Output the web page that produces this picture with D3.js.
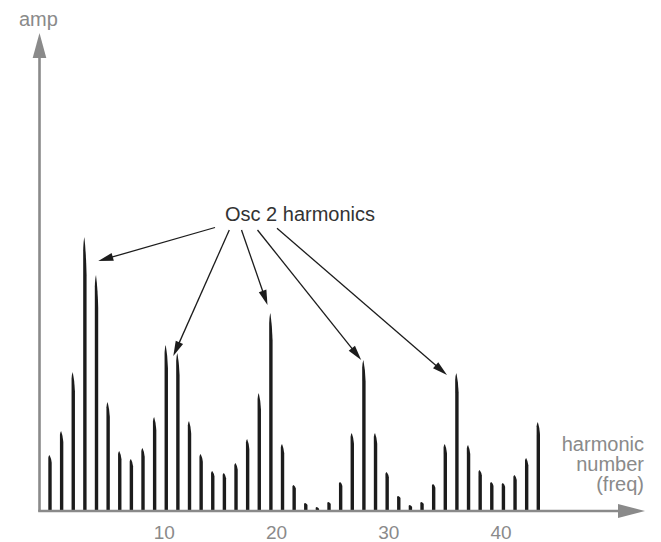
<!DOCTYPE html>
<html>
<head>
<meta charset="utf-8">
<script src="https://cdn.jsdelivr.net/npm/d3@7"></script>
<style>
  html, body { margin: 0; padding: 0; background: #fff; }
  svg { display: block; font-family: "Liberation Sans", Arial, Helvetica, sans-serif; }
</style>
</head>
<body>
<svg id="chart" width="661" height="542"></svg>
<script>
// ---- data ----
const harmonics = d3.range(1, 44);
const amplitudes = [55, 79, 138, 273, 235, 108, 59, 51, 62, 93,
                    165, 157, 89, 56, 39, 37, 47, 71, 117, 197,
                    66, 25, 7, 3, 8, 28, 77, 150, 77, 38,
                    14, 5, 8, 26, 66, 137, 65, 40, 28, 27,
                    35, 52, 88];
const tickValues = [10, 20, 30, 40];
const yLabel = "amp";
const xLabelLines = ["harmonic", "number", "(freq)"];
const annotation = "Osc 2 harmonics";
const peakHarmonics = [4.3, 11, 20, 28, 36];   // arrow targets
const peakOffsets = [25, 10, 8, 0, 0];

const svg = d3.select("#chart");
const baseY = 510;
const x = d3.scaleLinear().domain([1, 43]).range([50, 538.3]);
const xTick = d3.scaleLinear().domain([0, 40]).range([52, 501]);
const y = d3.scaleLinear().domain([0, 300]).range([baseY, baseY - 300]);

const axisColor = "#8a8a8a";

// bars (tapered spikes)
const bw = 3.4;
svg.append("g").selectAll("path")
  .data(harmonics.map((h, i) => ({h, v: amplitudes[i]})))
  .join("path")
  .attr("fill", "#1c1c1c")
  .attr("d", d => {
    const cx = x(d.h), top = y(d.v), h = baseY - top;
    const taper = Math.max(2, h * 0.14);
    const l = cx - bw / 2, r = cx + bw / 2;
    const tipX = cx - bw * 0.15;
    return `M${l},${baseY} L${l},${top + taper * 0.35} Q${l + 0.3},${top + taper * 0.1} ${tipX},${top} ` +
           `Q${r - 0.4},${top + taper * 0.45} ${r},${top + taper} L${r},${baseY} Z`;
  });

// axes
svg.append("line").attr("x1", 39.5).attr("x2", 39.5).attr("y1", baseY + 1.5).attr("y2", 52)
  .attr("stroke", axisColor).attr("stroke-width", 2.6);
svg.append("path").attr("d", "M39.5,33 L46.3,58 L32.7,58 Z").attr("fill", axisColor);
svg.append("line").attr("x1", 38.2).attr("x2", 624).attr("y1", baseY + 1).attr("y2", baseY + 1)
  .attr("stroke", axisColor).attr("stroke-width", 2.6);
svg.append("path").attr("d", `M645,${baseY + 1} L618,${baseY + 8} L618,${baseY - 6} Z`).attr("fill", axisColor);

// tick labels
svg.append("g").selectAll("text").data(tickValues).join("text")
  .attr("x", d => xTick(d)).attr("y", 539)
  .attr("text-anchor", "middle").attr("font-size", 19).attr("fill", axisColor)
  .text(d => d);

// axis titles
svg.append("text").attr("x", 19).attr("y", 26).attr("font-size", 20).attr("fill", axisColor).text(yLabel);
svg.append("text").attr("text-anchor", "end").attr("font-size", 20).attr("fill", axisColor)
  .selectAll("tspan").data(xLabelLines).join("tspan")
  .attr("x", 644).attr("y", (d, i) => 451 + i * 20).text(d => d);

// annotation
svg.append("text").attr("x", 225).attr("y", 221).attr("font-size", 20).attr("fill", "#333").text(annotation);

// arrows
const starts = [[215, 227.5], [229.3, 230], [241.5, 230], [257.5, 230], [277, 228.3]];
const tips = [[98.3, 261], [173.3, 356], [267.5, 305], [361.2, 360], [447, 375]];
const arrows = svg.append("g");
starts.forEach((s, i) => {
  const t = tips[i];
  const dx = t[0] - s[0], dy = t[1] - s[1], len = Math.hypot(dx, dy);
  const ux = dx / len, uy = dy / len, px = -uy, py = ux;
  const hl = 15, hw = 4;
  const bx = t[0] - ux * hl, by = t[1] - uy * hl;
  arrows.append("line").attr("x1", s[0]).attr("y1", s[1]).attr("x2", bx + ux * 2).attr("y2", by + uy * 2)
    .attr("stroke", "#1c1c1c").attr("stroke-width", 1.3);
  arrows.append("path")
    .attr("d", `M${t[0]},${t[1]} L${bx + px * hw},${by + py * hw} L${bx - px * hw},${by - py * hw} Z`)
    .attr("fill", "#1c1c1c");
});
</script>
</body>
</html>
